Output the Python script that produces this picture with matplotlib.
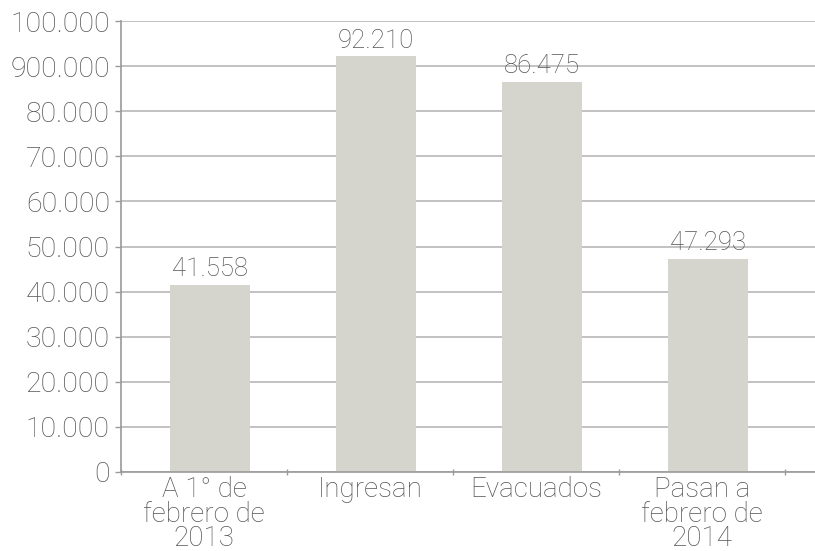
import matplotlib
matplotlib.use("Agg")
import matplotlib.pyplot as plt
import numpy as np

categories = ["A 1° de\nfebrero de\n2013", "Ingresan", "Evacuados", "Pasan a\nfebrero de\n2014"]
values = [41558, 92210, 86475, 47293]
value_labels = ["41.558", "92.210", "86.475", "47.293"]
yticks = [0, 10000, 20000, 30000, 40000, 50000, 60000, 70000, 80000, 90000, 100000]
ytick_labels = ["0", "10.000", "20.000", "30.000", "40.000", "50.000", "60.000",
                "70.000", "80.000", "900.000", "100.000"]

plt.rcParams['font.family'] = ['Roboto', 'DejaVu Sans']
plt.rcParams['font.weight'] = 'light'

fig = plt.figure(figsize=(8.15, 5.51), dpi=100)
ax = fig.add_axes([121/815, 1 - 472/551, 1 - 121/815, (472 - 21)/551])

text_color = "#555555"
grid_color = "#b8b8b8"
axis_color = "#9a9a9a"

x = np.arange(len(categories))
ax.bar(x + 0.035, values, width=0.48, color="#d5d5cd", zorder=2)
for xi, v, lab in zip(x, values, value_labels):
    ax.text(xi + 0.035, v + 800, lab, ha="center", va="bottom", fontsize=18.5,
            color=text_color, fontweight="light")

ax.set_xlim(-0.5, -0.5 + 694/166)
ax.set_ylim(0, 100000)

ax.set_yticks(yticks)
ax.set_yticklabels(ytick_labels, fontsize=20.5, color=text_color)
ax.yaxis.grid(True, color=grid_color, linewidth=1.2, zorder=0)
ax.set_axisbelow(True)
ax.tick_params(axis="y", length=4, color=axis_color, width=1, pad=4)

ax.set_xticks(np.arange(len(categories) + 1) - 0.5)
ax.set_xticklabels([])
ax.tick_params(axis="x", which="major", length=4, color=axis_color, width=1, direction="inout")
ax.set_xticks(x, minor=True)
ax.set_xticklabels(categories, minor=True, fontsize=20, color=text_color, linespacing=0.88)
ax.tick_params(axis="x", which="minor", length=0, pad=3)

for s in ["top", "right"]:
    ax.spines[s].set_visible(False)
for s in ["left", "bottom"]:
    ax.spines[s].set_color(axis_color)
    ax.spines[s].set_linewidth(1.2)

fig.savefig("out.png", dpi=100)
